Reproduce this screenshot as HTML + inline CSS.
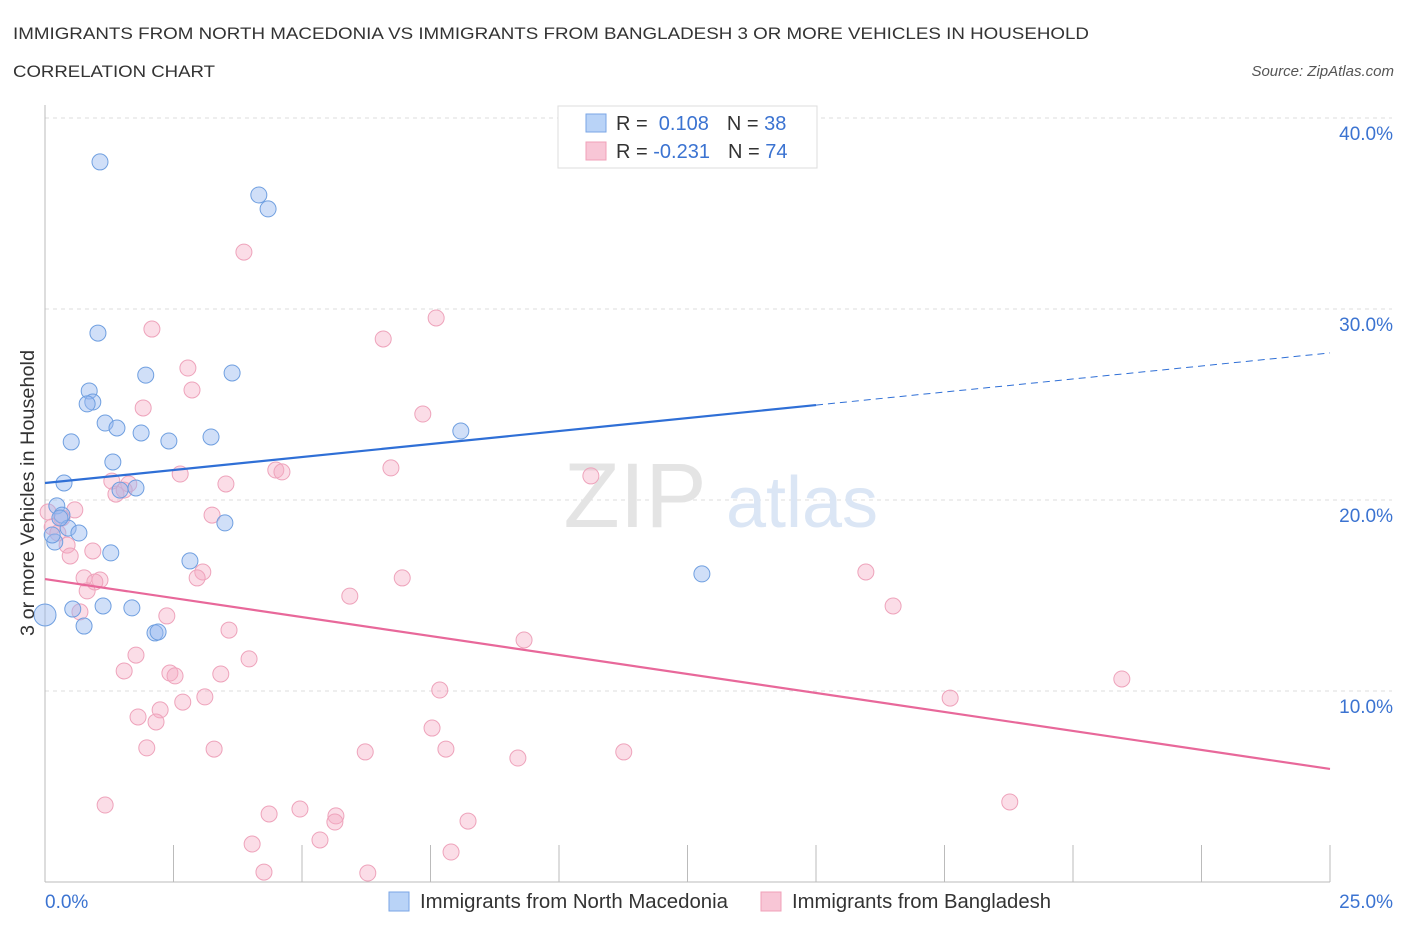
<!DOCTYPE html>
<html><head><meta charset="utf-8"><style>
body{margin:0;background:#fff;font-family:"Liberation Sans",sans-serif;}
svg text{font-family:"Liberation Sans",sans-serif;}
</style></head><body>
<svg id="chart" width="1406" height="930" xmlns="http://www.w3.org/2000/svg">
<text x="13" y="39" font-size="17" fill="#333" textLength="1076" lengthAdjust="spacingAndGlyphs">IMMIGRANTS FROM NORTH MACEDONIA VS IMMIGRANTS FROM BANGLADESH 3 OR MORE VEHICLES IN HOUSEHOLD</text>
<text x="13" y="77" font-size="17" fill="#333" textLength="202" lengthAdjust="spacingAndGlyphs">CORRELATION CHART</text>
<text x="1394" y="76" font-size="15" fill="#555" text-anchor="end" font-style="italic">Source: ZipAtlas.com</text>
<g id="grid"></g>
<g><text x="635" y="527" font-size="92" fill="#e4e4e4" text-anchor="middle" font-family="Liberation Serif">ZIP</text><text x="802" y="527" font-size="72" fill="#dbe6f5" text-anchor="middle">atlas</text></g>
<g id="axes"></g>
<g id="marks"></g>
<text transform="translate(34,493) rotate(-90)" font-size="19" fill="#333" text-anchor="middle" textLength="286" lengthAdjust="spacingAndGlyphs">3 or more Vehicles in Household</text>
<g>
<rect x="558" y="106" width="259" height="62" fill="#fff" stroke="#ddd"/>
<rect x="586" y="114" width="20" height="18" fill="#b9d3f7" stroke="#7aa6e6"/>
<rect x="586" y="142" width="20" height="18" fill="#f8c6d6" stroke="#f0a0b8"/>
<text x="616" y="130" font-size="20" fill="#333">R = <tspan fill="#3b73d1">&#160;0.108</tspan><tspan dx="18">N = </tspan><tspan fill="#3b73d1">38</tspan></text>
<text x="616" y="158" font-size="20" fill="#333">R = <tspan fill="#3b73d1">-0.231</tspan><tspan dx="18">N = </tspan><tspan fill="#3b73d1">74</tspan></text>
</g>
<g>
<rect x="389" y="892" width="20" height="19" fill="#b9d3f7" stroke="#7aa6e6"/>
<text x="420" y="908" font-size="20" fill="#333" textLength="308" lengthAdjust="spacingAndGlyphs">Immigrants from North Macedonia</text>
<rect x="761" y="892" width="20" height="19" fill="#f8c6d6" stroke="#f0a0b8"/>
<text x="792" y="908" font-size="20" fill="#333" textLength="259" lengthAdjust="spacingAndGlyphs">Immigrants from Bangladesh</text>
</g>
</svg>
<script>
const blueX=[1.07,4.16,4.34,1.03,1.96,3.64,0.86,0.93,0.82,1.17,1.40,1.87,2.41,3.23,0.51,8.09,1.32,0.37,1.77,1.46,0.23,3.50,0.33,0.45,0.66,0.19,1.28,2.82,12.78,0.0,0.54,1.13,1.69,0.76,2.14,2.20,0.14,0.29];
const blueY=[37.70,35.97,35.24,28.74,26.54,26.65,25.71,25.13,25.03,24.03,23.77,23.51,23.09,23.30,23.04,23.61,21.99,20.89,20.63,20.52,19.69,18.80,19.21,18.53,18.27,17.80,17.23,16.81,16.13,13.98,14.29,14.45,14.35,13.40,13.04,13.09,18.17,19.06];
const pinkX=[3.87,7.61,2.08,6.58,2.78,2.86,1.91,7.35,2.63,4.49,4.61,6.73,10.62,3.52,1.30,1.38,1.63,1.54,0.58,0.06,0.33,0.14,0.25,0.43,0.49,0.93,3.25,3.07,2.96,0.76,1.07,0.97,0.82,6.95,5.93,15.97,16.50,2.37,0.68,3.58,9.32,1.77,3.97,1.54,2.43,2.53,3.42,7.68,3.11,2.68,1.81,2.24,2.16,17.61,20.95,7.53,1.98,3.29,6.23,7.80,9.20,11.26,1.17,4.36,4.96,5.66,5.64,8.23,5.35,4.03,7.90,18.77,4.26,6.28];
const pinkY=[32.98,29.53,28.95,28.43,26.91,25.76,24.82,24.50,21.36,21.57,21.47,21.68,21.26,20.84,20.99,20.31,20.84,20.52,19.48,19.37,19.06,18.59,18.27,17.64,17.07,17.33,19.21,16.23,15.92,15.92,15.81,15.71,15.24,15.92,14.97,16.23,14.45,13.93,14.14,13.19,12.67,11.88,11.68,11.05,10.94,10.79,10.89,10.05,9.69,9.42,8.64,9.01,8.38,9.63,10.63,8.06,7.02,6.96,6.81,6.96,6.49,6.81,4.03,3.56,3.82,3.46,3.14,3.19,2.20,1.99,1.57,4.19,0.52,0.47];
const blueTrendX=[0,15,25];
const blueTrendY=[20.89,24.97,27.70];
const pinkTrendX=[0,25];
const pinkTrendY=[15.86,5.92];
const yTicks=[10,20,30,40];
const yTickLabels=["10.0%","20.0%","30.0%","40.0%"];
const xTickCount=11;

const NS="http://www.w3.org/2000/svg";
const X0=45,X1=1330,Y0=882,PXY=19.1;
const sx=v=>X0+(X1-X0)*v/25;
const sy=v=>Y0-v*PXY;
function mk(tag,attrs,parent){const e=document.createElementNS(NS,tag);for(const k in attrs)e.setAttribute(k,attrs[k]);parent.appendChild(e);return e;}
const grid=document.getElementById('grid'),axes=document.getElementById('axes'),marks=document.getElementById('marks');
yTicks.forEach((t,i)=>{
  const l=mk('line',{x1:X0,x2:1392,y1:sy(t),y2:sy(t),stroke:'#ddd','stroke-dasharray':'4,4'},grid);
  
  
  const tx=mk('text',{x:1393,y:sy(t)+22,'font-size':19,fill:'#3b73d1','text-anchor':'end'},axes);
  tx.textContent=yTickLabels[i];
  
  
});
const ax=mk('line',{x1:X0,x2:X0,y1:105,y2:Y0,stroke:'#bbb'},axes);


const bx=mk('line',{x1:X0,x2:X1,y1:Y0,y2:Y0,stroke:'#bbb'},axes);


for(let i=0;i<xTickCount;i++){
  const v=25*i/(xTickCount-1);
  const t=mk('line',{x1:sx(v),x2:sx(v),y1:845,y2:Y0,stroke:'#bbb'},axes);
  
  
}
const xl0=mk('text',{x:45,y:908,'font-size':19,fill:'#3b73d1'},axes);xl0.textContent='0.0%';


const xl1=mk('text',{x:1393,y:908,'font-size':19,fill:'#3b73d1','text-anchor':'end'},axes);xl1.textContent='25.0%';



pinkX.forEach((x,i)=>{
  const c=mk('circle',{cx:sx(x),cy:sy(pinkY[i]),r:8,fill:'rgba(245,170,195,0.4)',stroke:'#eea3bb','stroke-width':1},marks);
  
  
});
blueX.forEach((x,i)=>{
  const c=mk('circle',{cx:sx(x),cy:sy(blueY[i]),r:x===0?11:8,fill:'rgba(150,185,240,0.45)',stroke:'#6f9fe0','stroke-width':1},marks);
  
  
});
const b1=mk('line',{x1:sx(blueTrendX[0]),y1:sy(blueTrendY[0]),x2:sx(blueTrendX[1]),y2:sy(blueTrendY[1]),stroke:'#2f6fd6','stroke-width':2.2},marks);


const b2=mk('line',{x1:sx(blueTrendX[1]),y1:sy(blueTrendY[1]),x2:sx(blueTrendX[2]),y2:sy(blueTrendY[2]),stroke:'#2f6fd6','stroke-width':1,'stroke-dasharray':'7,5'},marks);


const p1=mk('line',{x1:sx(pinkTrendX[0]),y1:sy(pinkTrendY[0]),x2:sx(pinkTrendX[1]),y2:sy(pinkTrendY[1]),stroke:'#e8689a','stroke-width':2.2},marks);


</script>
</body></html>
